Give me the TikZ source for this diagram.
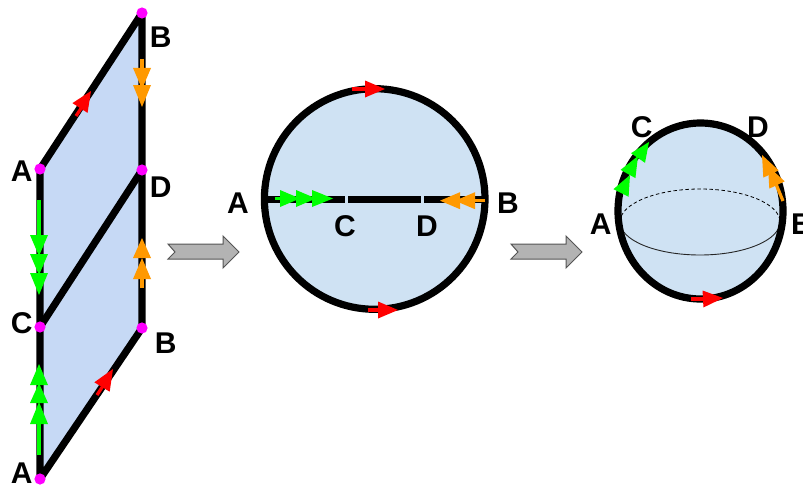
\documentclass[tikz,border=0pt]{standalone}
\usepackage{fontspec}
\setmainfont{Liberation Sans}
\usetikzlibrary{calc}
\definecolor{sheet}{HTML}{C6D9F5}
\definecolor{ball}{HTML}{CFE2F3}
\definecolor{gorange}{HTML}{FF9900}
\definecolor{ggreen}{HTML}{00FF00}
\definecolor{gpink}{HTML}{FF00FF}
\definecolor{blockfill}{HTML}{B3B3B3}
\definecolor{blockline}{HTML}{555555}
\tikzset{
  x=1pt,y=-1pt,
  thick line/.style={line width=7.2pt,black,line join=round},
  ring/.style={line width=7.2pt,black},
  shaft/.style={line width=3.2pt},
  letter/.style={font=\bfseries\fontsize{30}{30}\selectfont,inner sep=0pt,anchor=center},
  pin/.style={fill=gpink,draw=none},
  block/.style={fill=blockfill,draw=blockline,line width=1pt,line join=miter},
}
% head: colour, base, tip, half width
\newcommand{\headtri}[4]{\fill[#1] ($(#2)!#4pt!90:(#3)$) -- (#3) -- ($(#2)!#4pt!-90:(#3)$) -- cycle;}
\newcommand{\blockarrow}[1]{\draw[block,shift={(#1,0)}] (168,244) -- (223,244) -- (223,236) -- (239,252) -- (223,268) -- (223,259) -- (168,259) -- (175,252) -- cycle;}
\begin{document}
\begin{tikzpicture}
\clip (0,0) rectangle (803,487);
\fill[white] (0,0) rectangle (803,487);
% ---- left sheet
\coordinate (Bt) at (142,13);
\coordinate (Am) at (40,169);
\coordinate (Dm) at (142,170);
\coordinate (Cm) at (40,327);
\coordinate (Bb) at (142,328);
\coordinate (Ab) at (40,479);
\fill[sheet] (Bt) -- (Bb) -- (Ab) -- (Am) -- cycle;
\draw[thick line] (Am) -- (Bt) -- (Bb) -- (Ab) -- (Am);
\draw[thick line] (Cm) -- (Dm);
\foreach \p in {Bt,Am,Dm,Cm,Bb,Ab} \fill[pin] (\p) circle (5.6);
% red sheet arrows
\draw[shaft,red] (76,116) -- (82,107);
\headtri{red}{80,108}{91,91}{9}
\draw[shaft,red] (97,395) -- (103,386);
\headtri{red}{102,387}{113,369}{9}
% orange sheet arrows
\draw[shaft,gorange] (142,59) -- (142,70);
\headtri{gorange}{142,68}{142,89}{9}
\headtri{gorange}{142,85}{142,107}{9}
\draw[shaft,gorange] (142,288) -- (142,277);
\headtri{gorange}{142,279}{142,258}{9}
\headtri{gorange}{142,258}{142,238}{9}
% green sheet arrows
\draw[shaft,ggreen] (39,200) -- (39,237);
\headtri{ggreen}{39,235}{39,256}{9}
\headtri{ggreen}{39,254}{39,275}{9}
\headtri{ggreen}{39,273}{39,295}{9}
\draw[shaft,ggreen] (39,455) -- (39,422);
\headtri{ggreen}{39,424}{39,402}{9}
\headtri{ggreen}{39,403}{39,383}{9}
\headtri{ggreen}{39,385}{39,364}{9}
% ---- block arrows
\blockarrow{0}
\blockarrow{343}
% ---- disc
\fill[ball] (374.7,199) circle (110.3);
\draw[ring] (374.7,199) circle (110.3);
\coordinate (La) at (265,199.5);
\coordinate (Lc) at (345,199.5);
\coordinate (Lc2) at (348,199.5);
\coordinate (Ld) at (420.5,199.5);
\coordinate (Ld2) at (424,199.5);
\coordinate (Lb) at (485,199.5);
\draw[line width=7pt] (La) -- (Lc);
\draw[line width=7pt] (Lc2) -- (Ld);
\draw[line width=7pt] (Ld2) -- (Lb);
\draw[shaft,ggreen] (275,198.5) -- (282,198.5);
\headtri{ggreen}{280,198.5}{300,198.5}{8.5}
\headtri{ggreen}{296,198.5}{316,198.5}{8.5}
\headtri{ggreen}{312,198.5}{333,198.5}{8.5}
\draw[shaft,gorange] (485,200.7) -- (473,200.7);
\headtri{gorange}{475,200.7}{455,200.7}{8.5}
\headtri{gorange}{460,200.7}{440,200.7}{8.5}
\draw[shaft,red] (352,89) -- (367,89);
\headtri{red}{365,89}{385,89}{8.5}
\draw[shaft,red] (368,310) -- (380,310);
\headtri{red}{378,310}{398,310}{8.5}
% ---- sphere
\fill[ball] (700.5,211) ellipse [x radius=82.5,y radius=88];
\draw[dashed,line width=.8pt,dash pattern=on 3.5pt off 2.5pt] (620,222) .. controls (620,203.8) and (655.8,189) .. (700,189) .. controls (744.2,189) and (780,203.8) .. (780,222);
\draw[line width=.9pt,black!85] (620,222) .. controls (620,240.2) and (655.8,255) .. (700,255) .. controls (744.2,255) and (780,240.2) .. (780,222);
\draw[ring] (700.5,211) ellipse [x radius=82.5,y radius=88];
\headtri{ggreen}{621,193}{630,175}{8.5}
\headtri{ggreen}{628,174}{638,156}{8.5}
\headtri{ggreen}{638,158}{649,142}{8.5}
\draw[shaft,gorange] (783,201) -- (776,184);
\headtri{gorange}{777,185}{768,166}{8.5}
\headtri{gorange}{771,174}{762,155}{8.5}
\draw[shaft,red] (691,299) -- (705,299);
\headtri{red}{703,299}{723,298}{8.5}
% ---- letters
\node[letter] (l1) at (21.7,171) {A};
\node[letter] (l2) at (160.7,37) {B};
\node[letter] (l3) at (160.7,186.7) {D};
\node[letter] (l4) at (21.7,323.3) {C};
\node[letter] (l5) at (165.7,343) {B};
\node[letter] (l6) at (21.7,473) {A};
\node[letter] (l7) at (238,203) {A};
\node[letter] (l8) at (508,203) {B};
\node[letter] (l9) at (345,226) {C};
\node[letter] (l10) at (427,226) {D};
\node[letter] (l11) at (600.7,224) {A};
\node[letter] (l12) at (802,224) {B};
\node[letter] (l13) at (641.7,127) {C};
\node[letter] (l14) at (758,127) {D};
\end{tikzpicture}
\end{document}
